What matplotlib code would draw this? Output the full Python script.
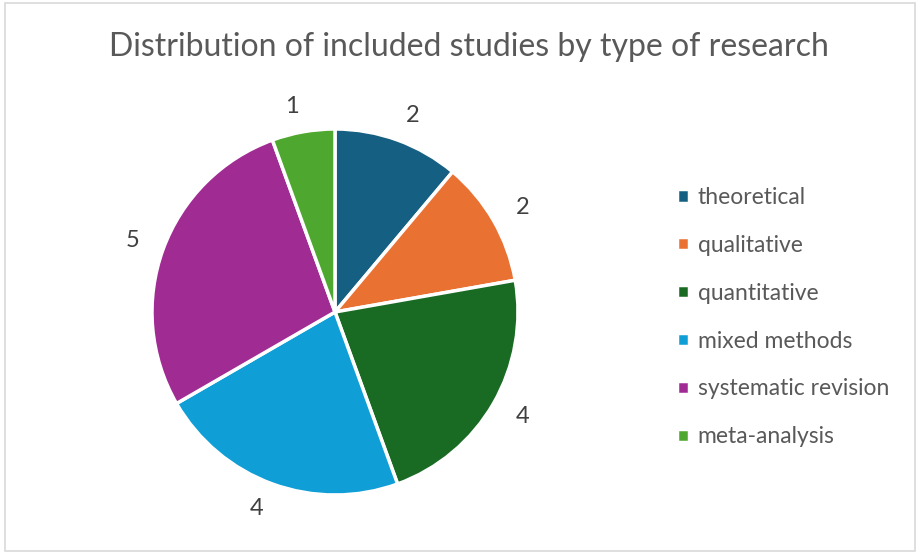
import matplotlib
matplotlib.use("Agg")
import matplotlib.pyplot as plt
from matplotlib.patches import Rectangle

categories = ["theoretical", "qualitative", "quantitative", "mixed methods",
              "systematic revision", "meta-analysis"]
counts = [2, 2, 4, 4, 5, 1]
colors = ["#156082", "#E97132", "#196B24", "#0F9ED5", "#A02B93", "#4EA72E"]

plt.rcParams["font.family"] = ["Lato", "DejaVu Sans"]

fig = plt.figure(figsize=(9.2, 5.54), dpi=100)
fig.patches.append(Rectangle((0.005, 0.006), 0.99, 0.988, transform=fig.transFigure,
                             fill=False, edgecolor="#D9D9D9", linewidth=1.2))

# pie area: centre ~ (335, 312) px, radius ~ 183 px
ax = fig.add_axes([(335 - 183) / 920, (554 - 312 - 183) / 554, 366 / 920, 366 / 554])
wedges, texts = ax.pie(counts, labels=[str(c) for c in counts], colors=colors,
                       startangle=90, counterclock=False, labeldistance=1.14,
                       wedgeprops=dict(edgecolor="white", linewidth=2.5),
                       textprops=dict(color="#404040", fontsize=17))
ax.set_xlim(-1, 1)
ax.set_ylim(-1, 1)
ax.set_aspect("equal")

fig.text(469 / 920, 1 - 47 / 554, "Distribution of included studies by type of research",
         ha="center", va="center", fontsize=23, color="#595959")

leg = fig.legend(wedges, categories, loc="upper left",
                 bbox_to_anchor=(668 / 920, 1 - 178 / 554), frameon=False,
                 fontsize=16.5, labelcolor="#595959", handlelength=0.5, handleheight=0.5,
                 handletextpad=0.4, labelspacing=1.17, borderaxespad=0)

fig.savefig("out.png", dpi=100)
